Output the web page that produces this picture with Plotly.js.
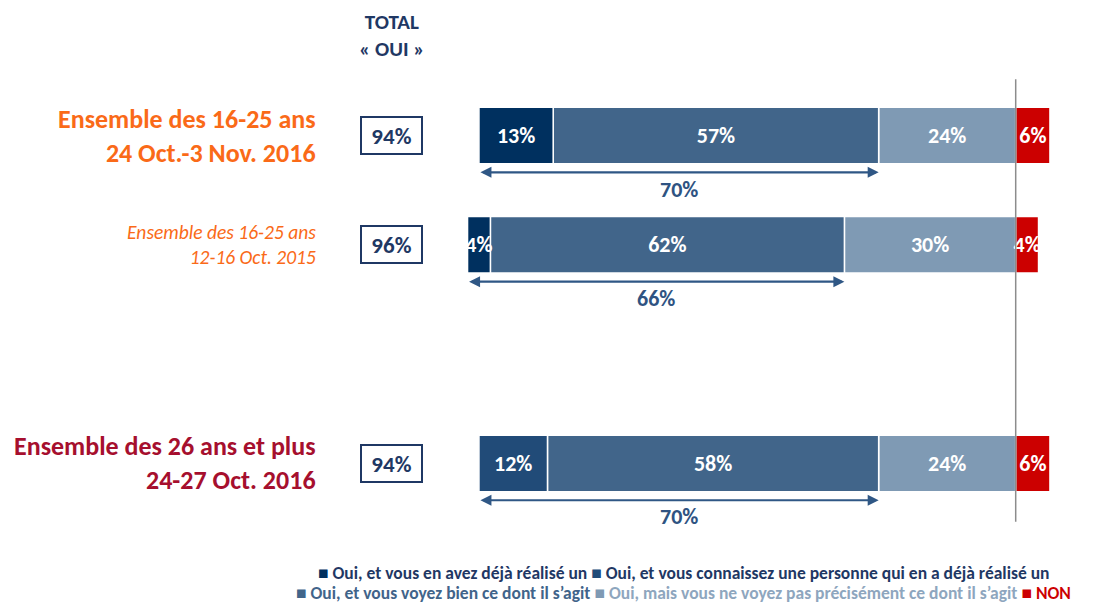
<!DOCTYPE html>
<html>
<head>
<meta charset="utf-8">
<script src="https://cdn.plot.ly/plotly-3.0.1.min.js"></script>
<style>html,body{margin:0;padding:0;background:#fff;}#chart{width:1096px;height:605px;}</style>
</head>
<body>
<div id="chart"></div>
<script>
// ---- data ----
const rowLabels = [
  'Ensemble des 16-25 ans<br>24 Oct.-3 Nov. 2016',
  'Ensemble des 16-25 ans<br>12-16 Oct. 2015',
  'Ensemble des 26 ans et plus<br>24-27 Oct. 2016'
];
const seriesNames = [
  'Oui, et vous en avez déjà réalisé un',
  'Oui, et vous connaissez une personne qui en a déjà réalisé un',
  'Oui, et vous voyez bien ce dont il s’agit',
  'Oui, mais vous ne voyez pas précisément ce dont il s’agit',
  'NON'
];
const dejaRealise   = [13, 4, null];
const connaissez    = [null, null, 12];
const voyezBien     = [57, 62, 58];
const pasPrecis     = [24, 30, 24];
const nonVals       = [6, 4, 6];
const headerText = 'TOTAL<br>« OUI »';

// ---- styling / layout constants ----
const rowPos = [0, 1, 3];
const barColors = ['#00305f', '#214b78', '#41658a', '#7f9ab4', '#cc0000'];
const legendTextColors = ['#1f3864', '#1f3864', '#41648a', '#8ea6be', '#cc0000'];
const FONT = 'Carlito, Lato, "Open Sans", sans-serif';
const pxPerPct = 5.71, zeroPx = 1015.7, rowPx = 109.3, row0Px = 135.5;
const xr = [(0 - zeroPx) / pxPerPct, (1096 - zeroPx) / pxPerPct];
const yr = [(605 - row0Px) / rowPx, (0 - row0Px) / rowPx];
const xOf = p => (p - zeroPx) / pxPerPct;
const yOf = p => (p - row0Px) / rowPx;

const pct = arr => arr.map(v => v == null ? '' : v + '%');
function barTrace(name, vals, color, sign) {
  return {
    type: 'bar', orientation: 'h', name: name,
    y: rowPos, x: vals.map(v => v == null ? null : sign * v),
    width: 0.517,
    marker: {color: color, line: {color: '#ffffff', width: 1.5}},
    text: pct(vals), texttemplate: '%{text}',
    textposition: 'inside', insidetextanchor: 'middle', textangle: 0,
    textfont: {family: FONT, size: 22, color: '#ffffff', weight: 700},
    hoverinfo: 'name+text', showlegend: false, cliponaxis: false
  };
}
const traces = [
  barTrace(seriesNames[3], pasPrecis, barColors[3], -1),
  barTrace(seriesNames[2], voyezBien, barColors[2], -1),
  barTrace(seriesNames[0], dejaRealise, barColors[0], -1),
  barTrace(seriesNames[1], connaissez, barColors[1], -1),
  barTrace(seriesNames[4], nonVals, barColors[4], 1)
];

const annotations = [];
const rowStyles = [
  {size: 26, color: '#fa6a18', weight: 700, style: 'normal'},
  {size: 19.5, color: '#fa6a18', weight: 400, style: 'italic'},
  {size: 26, color: '#a60f2e', weight: 700, style: 'normal'}
];
rowLabels.forEach((lab, i) => {
  const s = rowStyles[i];
  annotations.push({xref: 'x', yref: 'y', x: xOf(318), y: rowPos[i], text: lab,
    showarrow: false, xanchor: 'right', yanchor: 'middle', align: 'right',
    font: {family: FONT, size: s.size, color: s.color, weight: s.weight, style: s.style}});
  const tot = (dejaRealise[i] || 0) + (connaissez[i] || 0) + voyezBien[i] + pasPrecis[i];
  annotations.push({xref: 'x', yref: 'y', x: xOf(391.5), y: rowPos[i], text: tot + '%',
    showarrow: false, xanchor: 'center', yanchor: 'middle', width: 57, height: 33,
    bordercolor: '#1f3864', borderwidth: 2, borderpad: 1, bgcolor: '#ffffff',
    font: {family: FONT, size: 23, color: '#1f3864', weight: 700}});
  const known = (dejaRealise[i] || 0) + (connaissez[i] || 0) + voyezBien[i];
  const left = -(known + pasPrecis[i]), right = -pasPrecis[i];
  annotations.push({xref: 'x', yref: 'y', axref: 'x', ayref: 'y',
    x: right, y: rowPos[i] + 0.337, ax: left, ay: rowPos[i] + 0.337, text: '',
    showarrow: true, arrowside: 'end+start', arrowhead: 2, arrowsize: 1, arrowwidth: 2.2,
    arrowcolor: '#2f5785', standoff: 0, startstandoff: 0});
  annotations.push({xref: 'x', yref: 'y', x: (left + right) / 2, y: rowPos[i] + 0.49,
    text: known + '%', showarrow: false, xanchor: 'center', yanchor: 'middle',
    font: {family: FONT, size: 22, color: '#2f5382', weight: 700}});
});
annotations.push({xref: 'x', yref: 'y', x: xOf(391.5), y: yOf(35.3), text: headerText,
  showarrow: false, xanchor: 'center', yanchor: 'middle', align: 'center',
  font: {family: FONT, size: 21, color: '#1f3864', weight: 700}});

// legend as text rows
const legendRows = [[0, 1], [2, 3, 4]];
const legendY = [573, 593];
legendRows.forEach((idxs, r) => {
  const txt = idxs.map(i =>
    '<span style="color:' + barColors[i] + '">■</span>' +
    '<span style="color:' + legendTextColors[i] + '"> ' + seriesNames[i] + '</span>'
  ).join(' ');
  annotations.push({xref: 'paper', yref: 'paper', x: 683 / 1096, y: 1 - legendY[r] / 605,
    text: txt, showarrow: false, xanchor: 'center', yanchor: 'middle',
    font: {family: FONT, size: 17.5, color: '#1f3864', weight: 700}});
});

const layout = {
  width: 1096, height: 605,
  margin: {l: 0, r: 0, t: 0, b: 0, pad: 0},
  paper_bgcolor: '#ffffff', plot_bgcolor: '#ffffff',
  barmode: 'relative', showlegend: false,
  uniformtext: {mode: 'show', minsize: 22},
  xaxis: {range: xr, visible: false, fixedrange: true},
  yaxis: {range: yr, visible: false, fixedrange: true},
  shapes: [{type: 'line', xref: 'x', yref: 'y', x0: 0, x1: 0,
    y0: yOf(79.3), y1: yOf(521.7), line: {color: '#8c8c8c', width: 1.5}, layer: 'above'}],
  annotations: annotations
};
Plotly.newPlot('chart', traces, layout, {displayModeBar: false, staticPlot: true});
</script>
</body>
</html>
